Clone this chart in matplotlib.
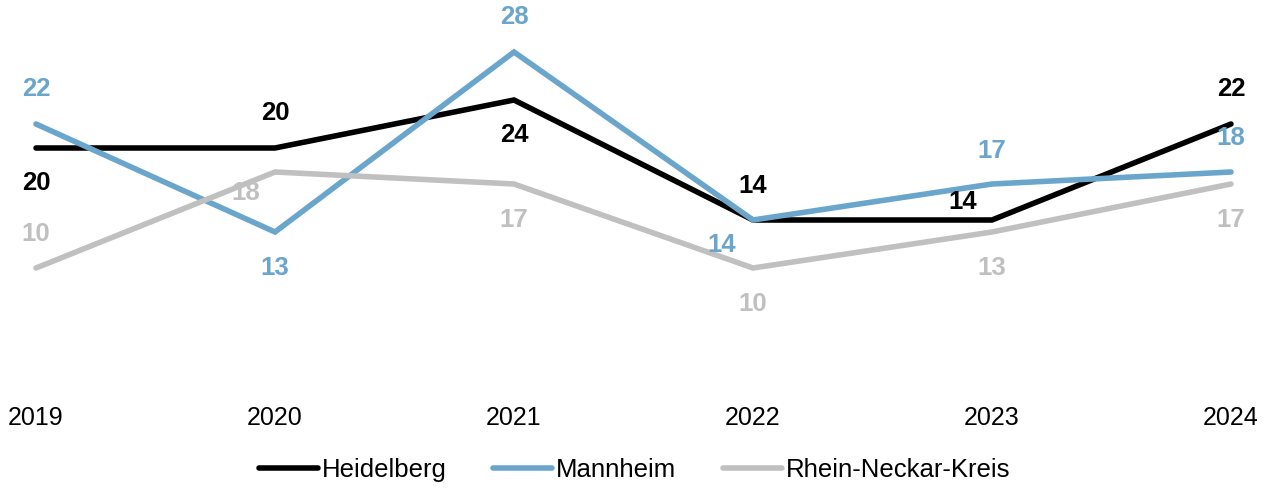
import matplotlib.pyplot as plt

plt.rcParams['font.family'] = ['Liberation Sans', 'DejaVu Sans']

years = ['2019', '2020', '2021', '2022', '2023', '2024']
heidelberg = [20, 20, 24, 14, 14, 22]
mannheim = [22, 13, 28, 14, 17, 18]
rnk = [10, 18, 17, 10, 13, 17]

series = [
    ('Heidelberg', heidelberg, '#000000'),
    ('Mannheim', mannheim, '#6aa6cb'),
    ('Rhein-Neckar-Kreis', rnk, '#c0c0c0'),
]

# label offsets in pixels (dx, dy) per point
offsets = {
    'Heidelberg': [(0, -35), (0, 35), (0, -35), (0, 34), (-29, 18), (0, 35)],
    'Mannheim': [(0, 35), (0, -36), (0, 35), (-31, -25), (0, 33), (0, 34)],
    'Rhein-Neckar-Kreis': [(0, 34), (-29, -21), (0, -36), (0, -36), (0, -36), (0, -36)],
}

W, H = 1269, 490
fig = plt.figure(figsize=(W / 100, H / 100), dpi=100)
ax = fig.add_axes([36 / W, (H - 388) / H, 1195 / W, 360 / H])

x = list(range(len(years)))
for name, vals, col in series:
    ax.plot(x, vals, color=col, lw=4, label=name, clip_on=False,
            solid_capstyle='round', solid_joinstyle='miter')

for name, vals, col in series:
    for i, v in enumerate(vals):
        dx, dy = offsets[name][i]
        ax.annotate(str(v), (i, v), xytext=(dx * 0.72, dy * 0.72),
                    textcoords='offset points', ha='center', va='center',
                    fontsize=18.5, fontweight='bold', color=col)

ax.set_xlim(0, len(years) - 1)
ax.set_ylim(0, 30)
ax.set_xticks(x)
ax.set_xticklabels(years, fontsize=18)
ax.tick_params(axis='x', length=0, pad=13)
ax.set_yticks([])
for s in ax.spines.values():
    s.set_visible(False)

fig.legend(loc='center', bbox_to_anchor=(0.5, 1 - 470 / H), ncol=3,
           frameon=False, fontsize=18.5, handlelength=2.3, handletextpad=0.15,
           columnspacing=1.8)

fig.savefig('out.png', dpi=100)
